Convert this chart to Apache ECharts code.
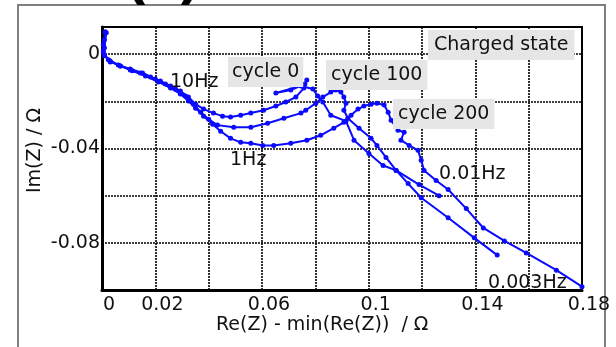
<!DOCTYPE html>
<html>
<head>
<meta charset="utf-8">
<script src="https://cdn.jsdelivr.net/npm/echarts@6/dist/echarts.min.js"></script>
<style>
html,body{margin:0;padding:0;background:#fff;}
#chart{width:616px;height:347px;}
</style>
</head>
<body>
<div id="chart"></div>
<script>
// ---- data (Re(Z)-min(Re(Z)) [Ohm], Im(Z) [Ohm]) ----
var cycle0 = [
  [0.0012,0.0095],[0.0009,0.0061],[0.0005,0.0018],[0.0009,-0.0007],[0.0031,-0.0033],
  [0.0069,-0.0050],[0.0106,-0.0067],[0.0144,-0.0080],[0.0182,-0.0097],[0.0219,-0.0114],
  [0.0257,-0.0135],[0.0294,-0.0156],[0.0324,-0.0182],[0.0351,-0.0212],[0.0381,-0.0233],
  [0.0418,-0.0250],[0.0452,-0.0263],[0.0482,-0.0267],[0.0520,-0.0259],[0.0558,-0.0250],
  [0.0606,-0.0238],[0.0652,-0.0220],[0.0689,-0.0203],[0.0727,-0.0182],[0.0757,-0.0144],
  [0.0768,-0.0110],[0.0761,-0.0127],[0.0708,-0.0152],[0.0652,-0.0165],[0.0746,-0.0135],
  [0.0791,-0.0148],[0.0809,-0.0178],[0.0828,-0.0203],[0.0858,-0.0259],[0.0915,-0.0284],
  [0.0945,-0.0365],[0.1001,-0.0421],[0.1054,-0.0472],[0.1103,-0.0493],[0.1189,-0.0553],
  [0.1264,-0.0600]
];
var cycle100 = [
  [0.0012,0.0091],[0.0005,0.0040],[0.0005,0.0006],[0.0024,-0.0024],[0.0061,-0.0046],
  [0.0106,-0.0063],[0.0152,-0.0080],[0.0200,-0.0105],[0.0238,-0.0127],[0.0276,-0.0148],
  [0.0313,-0.0178],[0.0343,-0.0212],[0.0370,-0.0246],[0.0400,-0.0276],[0.0433,-0.0301],
  [0.0494,-0.0310],[0.0558,-0.0310],[0.0621,-0.0293],[0.0682,-0.0272],[0.0746,-0.0250],
  [0.0764,-0.0238],[0.0802,-0.0208],[0.0828,-0.0182],[0.0858,-0.0161],[0.0877,-0.0152],
  [0.0896,-0.0161],[0.0907,-0.0182],[0.0915,-0.0208],[0.0907,-0.0238],[0.0922,-0.0272],
  [0.0964,-0.0314],[0.1009,-0.0357],[0.1031,-0.0387],[0.1065,-0.0438],[0.1103,-0.0493],
  [0.1148,-0.0549],[0.1197,-0.0609],[0.1298,-0.0694],[0.1396,-0.0779],[0.1482,-0.0852]
];
var cycle200 = [
  [0.0016,0.0091],[0.0009,0.0027],[0.0009,-0.0003],[0.0031,-0.0029],[0.0069,-0.0050],
  [0.0114,-0.0071],[0.0163,-0.0093],[0.0212,-0.0118],[0.0257,-0.0144],[0.0294,-0.0169],
  [0.0324,-0.0199],[0.0351,-0.0229],[0.0381,-0.0263],[0.0415,-0.0297],[0.0445,-0.0327],
  [0.0482,-0.0357],[0.0520,-0.0374],[0.0558,-0.0378],[0.0603,-0.0387],[0.0644,-0.0387],
  [0.0708,-0.0378],[0.0768,-0.0365],[0.0820,-0.0344],[0.0869,-0.0314],[0.0907,-0.0289],
  [0.0934,-0.0259],[0.0960,-0.0233],[0.0982,-0.0220],[0.1009,-0.0212],[0.1031,-0.0208],
  [0.1058,-0.0216],[0.1073,-0.0246],[0.1084,-0.0280],[0.1110,-0.0323],[0.1133,-0.0331],
  [0.1121,-0.0365],[0.1152,-0.0387],[0.1185,-0.0408],[0.1197,-0.0450],[0.1208,-0.0493],
  [0.1253,-0.0536],[0.1298,-0.0574],[0.1366,-0.0655],[0.1430,-0.0737],[0.1509,-0.0792],
  [0.1591,-0.0843],[0.1704,-0.0916],[0.1800,-0.0986]
];
var xTickLabels = ['0','0.02','0.06','0.1','0.14','0.18'];
var yTickLabels = ['0','-0.04','-0.08'];
var xTitle = 'Re(Z) - min(Re(Z))  / \u03a9';
var yTitle = 'Im(Z) / \u03a9';
var seriesNames = ['cycle 0','cycle 100','cycle 200'];

var FONT = 'DejaVu Sans';
var BLUE = '#0a0aff';

function fmt(v){
  return String(Math.round(v*1000)/1000);
}

var chart = echarts.init(document.getElementById('chart'), null, {renderer:'canvas'});

function mkSeries(name, data){
  return {
    name: name, type:'line', data: data,
    symbol:'circle', symbolSize:5, showSymbol:true,
    lineStyle:{color:BLUE, width:2},
    itemStyle:{color:BLUE},
    animation:false, clip:true, z:5
  };
}

var gridLine = {show:true, lineStyle:{color:'#000', width:1.6, type:[2,1]}};

var boxStyle = function(txt, x, y, pad){
  return {type:'text', left:x, top:y, z:100,
    style:{text:txt, font:'19px "'+FONT+'"', fill:'#111',
      backgroundColor:'#e6e6e6', padding:pad}};
};
var plainText = function(txt, x, y){
  return {type:'text', left:x, top:y, z:100,
    style:{text:txt, font:'19px "'+FONT+'"', fill:'#111'}};
};

var option = {
  backgroundColor:'#fff',
  animation:false,
  grid:{left:102, right:34, top:27, bottom:57, show:true, borderColor:'#000', borderWidth:2, backgroundColor:'transparent'},
  xAxis:{
    type:'value', min:0, max:0.18, interval:0.02,
    axisLine:{show:true, onZero:false, lineStyle:{color:'#000', width:3}},
    axisTick:{show:false},
    splitLine:gridLine,
    axisLabel:{
      color:'#111', fontFamily:FONT, fontSize:19, margin:6, padding:[0,0,0,14],
      formatter:function(v){ var s=fmt(v); return xTickLabels.indexOf(s)>=0 ? s : ''; }
    }
  },
  yAxis:{
    type:'value', min:-0.1, max:0.0115, interval:0.02,
    axisLine:{show:true, onZero:false, lineStyle:{color:'#000', width:3}},
    axisTick:{show:false},
    splitLine:gridLine,
    axisLabel:{
      color:'#111', fontFamily:FONT, fontSize:19, margin:2, padding:[11,0,0,0],
      showMaxLabel:false,
      formatter:function(v){ var s=fmt(v); return yTickLabels.indexOf(s)>=0 ? s : ''; }
    }
  },
  series:[
    mkSeries(seriesNames[0], cycle0),
    mkSeries(seriesNames[1], cycle100),
    mkSeries(seriesNames[2], cycle200)
  ],
  graphic:[
    {type:'rect', shape:{x:18, y:5, width:587, height:380}, style:{fill:null, stroke:'#7f7f7f', lineWidth:2}, z:-10, silent:true},
    {type:'text', left:126, top:-52, z:100, style:{text:'(b)', font:'bold 58px "Liberation Sans"', fill:'#000'}},
    boxStyle('Charged state', 428, 30, [6,6,5,6]),
    boxStyle(seriesNames[0], 228, 57, [6,4,5,4]),
    boxStyle(seriesNames[1], 326, 60, [6,5,5,5]),
    boxStyle(seriesNames[2], 393, 99, [6,5,5,5]),
    plainText('10Hz', 170, 73),
    plainText('1Hz', 230, 151),
    plainText('0.01Hz', 439, 165),
    plainText('0.003Hz', 488, 274),
    {type:'text', left:216, top:316, z:100, style:{text:xTitle, font:'19px "'+FONT+'"', fill:'#111'}},
    {type:'text', x:26, y:193, rotation:Math.PI/2, z:100, style:{text:yTitle, font:'19px "'+FONT+'"', fill:'#111'}}
  ]
};
chart.setOption(option);
</script>
</body>
</html>
